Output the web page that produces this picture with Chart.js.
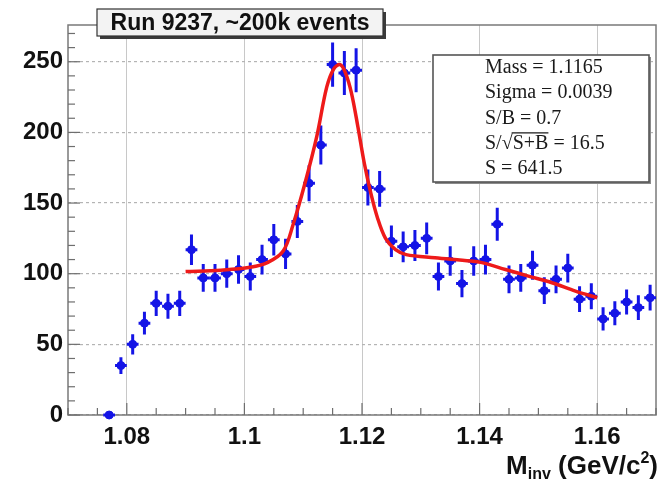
<!DOCTYPE html>
<html lang="en">
<head>
    <meta charset="UTF-8">
    <title>Minv</title>
    <script src="https://cdn.jsdelivr.net/npm/chart.js@4"></script>
    <style>
        html, body { margin: 0; padding: 0; background: #ffffff; }
    </style>
</head>
<body>
    <canvas id="grafico" width="661" height="480"></canvas>

<script>
    // bin centers (GeV/c^2)
    var massas = [1.077, 1.079, 1.081, 1.083, 1.085, 1.087, 1.089, 1.091, 1.093, 1.095,
        1.097, 1.099, 1.101, 1.103, 1.105, 1.107, 1.109, 1.111, 1.113, 1.115,
        1.117, 1.119, 1.121, 1.123, 1.125, 1.127, 1.129, 1.131, 1.133, 1.135,
        1.137, 1.139, 1.141, 1.143, 1.145, 1.147, 1.149, 1.151, 1.153, 1.155,
        1.157, 1.159, 1.161, 1.163, 1.165, 1.167, 1.169];
    var contagens = [0, 35, 50, 65, 79, 77, 79, 117, 97, 97,
        100, 103, 98, 110, 124, 114, 137, 164, 191, 248,
        242, 244, 161, 160, 123, 119, 120, 125, 98, 109,
        93, 109, 110, 135, 96, 97, 106, 88, 96, 104,
        82, 84, 68, 72, 80, 76, 83];
    var erros = [0, 5.9, 7.1, 8.1, 8.9, 8.8, 8.9, 10.8, 9.8, 9.8,
        10, 10.1, 9.9, 10.5, 11.1, 10.7, 11.7, 12.8, 13.8, 15.7,
        15.6, 15.6, 12.7, 12.6, 11.1, 10.9, 11, 11.2, 9.9, 10.4,
        9.6, 10.4, 10.5, 11.6, 9.8, 9.8, 10.3, 9.4, 9.8, 10.2,
        9.1, 9.2, 8.2, 8.5, 8.9, 8.7, 9.1];
    var meiaLargura = 0.001;

    // fit curve
    var ajusteX = [1.090, 1.096, 1.101, 1.104, 1.1066, 1.1083, 1.1103, 1.1123, 1.1140, 1.1152,
        1.1163, 1.1172, 1.1182, 1.1193, 1.1204, 1.1215, 1.1226, 1.1240, 1.1257, 1.1275,
        1.1324, 1.1385, 1.1404, 1.1444, 1.1483, 1.1523, 1.1563, 1.160];
    var ajusteY = [101.5, 102.5, 104.5, 108, 116, 135, 164, 197, 232, 245,
        248, 242, 228, 204, 178, 157, 140, 125, 117, 113.5,
        111.3, 109, 107.8, 103, 98.3, 93.6, 87.7, 83];

    var xTicks = [1.08, 1.1, 1.12, 1.14, 1.16];
    var xLabels = ['1.08', '1.1', '1.12', '1.14', '1.16'];
    var yTicks = [0, 50, 100, 150, 200, 250];
    var yLabels = ['0', '50', '100', '150', '200', '250'];

    var titulo = 'Run 9237, ~200k events';
    var statsLinhas = ['Mass = 1.1165', 'Sigma = 0.0039', 'S/B = 0.7', 'S/\u221AS+B = 16.5', 'S = 641.5'];

    var azul = '#1414e6';
    var vermelho = '#ee1a1a';

    var decor = {
        id: 'decor',
        beforeDatasetsDraw(chart) {
            var ctx = chart.ctx;
            var xs = chart.scales.x, ys = chart.scales.y;
            var a = chart.chartArea;
            ctx.save();

            // frame
            ctx.strokeStyle = '#7a7a7a';
            ctx.lineWidth = 1.5;
            ctx.strokeRect(a.left, a.top, a.right - a.left, a.bottom - a.top);

            // ticks pointing inside
            ctx.strokeStyle = '#6e6e6e';
            ctx.lineWidth = 1.2;
            for (var v = 0; v <= 270; v += 10) {
                var py = ys.getPixelForValue(v);
                var len = (v % 50 === 0) ? 12 : 7;
                ctx.beginPath();
                ctx.moveTo(a.left, py);
                ctx.lineTo(a.left + len, py);
                ctx.stroke();
            }
            for (var i = 0; i <= 20; i++) {
                var xv = 1.07 + i * 0.005;
                var px = xs.getPixelForValue(xv);
                var lenx = (i % 4 === 2) ? 12 : 7;
                ctx.beginPath();
                ctx.moveTo(px, a.bottom);
                ctx.lineTo(px, a.bottom - lenx);
                ctx.stroke();
            }

            // error bars
            ctx.strokeStyle = azul;
            ctx.lineWidth = 3;
            for (var k = 0; k < massas.length; k++) {
                var cx = xs.getPixelForValue(massas[k]);
                var x0 = xs.getPixelForValue(massas[k] - meiaLargura);
                var x1 = xs.getPixelForValue(massas[k] + meiaLargura);
                var cy = ys.getPixelForValue(contagens[k]);
                var y0 = ys.getPixelForValue(contagens[k] - erros[k]);
                var y1 = ys.getPixelForValue(contagens[k] + erros[k]);
                ctx.beginPath();
                ctx.moveTo(x0, cy);
                ctx.lineTo(x1, cy);
                if (erros[k] > 0) {
                    ctx.moveTo(cx, y0);
                    ctx.lineTo(cx, y1);
                }
                ctx.stroke();
            }
            ctx.restore();
        },
        afterDraw(chart) {
            var ctx = chart.ctx;
            ctx.save();

            // title box
            var bx = 97, by = 9, bw = 286, bh = 27;
            ctx.fillStyle = '#3a3a3a';
            ctx.fillRect(bx + 3, by + 3, bw, bh);
            ctx.fillStyle = '#f3f3f3';
            ctx.fillRect(bx, by, bw, bh);
            ctx.strokeStyle = '#333333';
            ctx.lineWidth = 1.2;
            ctx.strokeRect(bx, by, bw, bh);
            ctx.fillStyle = '#111111';
            ctx.font = 'bold 23px "Liberation Sans", Arial, sans-serif';
            ctx.textAlign = 'center';
            ctx.textBaseline = 'middle';
            ctx.fillText(titulo, bx + bw / 2, by + bh / 2 + 1);

            // stats box
            var sx = 433, sy = 55, sw = 216, sh = 127;
            ctx.fillStyle = '#8a8a8a';
            ctx.fillRect(sx + 2, sy + 2, sw, sh);
            ctx.fillStyle = '#ffffff';
            ctx.fillRect(sx, sy, sw, sh);
            ctx.strokeStyle = '#555555';
            ctx.lineWidth = 1.6;
            ctx.strokeRect(sx, sy, sw, sh);
            ctx.fillStyle = '#1a1a1a';
            ctx.font = '20px "Liberation Serif", "Times New Roman", serif';
            ctx.textAlign = 'left';
            ctx.textBaseline = 'alphabetic';
            for (var i = 0; i < statsLinhas.length; i++) {
                var ly = 73 + i * 25.3;
                ctx.fillText(statsLinhas[i], 485, ly);
                if (statsLinhas[i].indexOf('\u221A') >= 0) {
                    var p = statsLinhas[i].indexOf('\u221A');
                    var ini = 485 + ctx.measureText(statsLinhas[i].slice(0, p + 1)).width - 1;
                    var fim = 485 + ctx.measureText(statsLinhas[i].slice(0, p + 4)).width;
                    ctx.strokeStyle = '#1a1a1a';
                    ctx.lineWidth = 1.2;
                    ctx.beginPath();
                    ctx.moveTo(ini, ly - 16);
                    ctx.lineTo(fim, ly - 16);
                    ctx.stroke();
                }
            }

            // axis title  M_inv (GeV/c^2)
            var partes = [
                { t: 'M', f: 26, dy: 0 },
                { t: 'inv', f: 16, dy: 5 },
                { t: ' (GeV/c', f: 26, dy: 0 },
                { t: '2', f: 16, dy: -11 },
                { t: ')', f: 26, dy: 0 }
            ];
            var total = 0;
            partes.forEach(function (pt) {
                ctx.font = 'bold ' + pt.f + 'px "Liberation Sans", Arial, sans-serif';
                pt.w = ctx.measureText(pt.t).width;
                total += pt.w;
            });
            var tx = 658 - total;
            ctx.fillStyle = '#111111';
            partes.forEach(function (pt) {
                ctx.font = 'bold ' + pt.f + 'px "Liberation Sans", Arial, sans-serif';
                ctx.fillText(pt.t, tx, 474 + pt.dy);
                tx += pt.w;
            });
            ctx.restore();
        }
    };

    function desenharGrafico() {
        var ctx = document.getElementById('grafico').getContext('2d');
        var pontos = massas.map(function (m, i) { return { x: m, y: contagens[i] }; });
        var curva = ajusteX.map(function (m, i) { return { x: m, y: ajusteY[i] }; });
        var fonteEixo = { family: '"Liberation Sans", Arial, sans-serif', size: 24, weight: 'bold' };

        var config = {
            type: 'scatter',
            data: {
                datasets: [
                    {
                        type: 'line',
                        label: 'fit',
                        data: curva,
                        borderColor: vermelho,
                        borderWidth: 3.5,
                        pointRadius: 0,
                        tension: 0.35,
                        fill: false,
                        order: 0
                    },
                    {
                        label: 'dados',
                        data: pontos,
                        backgroundColor: azul,
                        borderColor: azul,
                        pointRadius: 4,
                        pointStyle: 'circle',
                        clip: false,
                        order: 1
                    }
                ]
            },
            options: {
                responsive: false,
                animation: false,
                layout: { padding: { top: 25, right: 3, left: 0, bottom: 0 } },
                plugins: {
                    legend: { display: false },
                    tooltip: { enabled: false }
                },
                scales: {
                    x: {
                        type: 'linear',
                        min: 1.07,
                        max: 1.17,
                        afterBuildTicks: function (s) { s.ticks = xTicks.map(function (v) { return { value: v }; }); },
                        afterFit: function (s) { s.height = 65; },
                        ticks: {
                            callback: function (v, i) { return xLabels[i]; },
                            font: fonteEixo,
                            color: '#111111',
                            padding: 8,
                            maxRotation: 0,
                            autoSkip: false
                        },
                        grid: { color: '#c8c8c8', lineWidth: 1, drawTicks: false },
                        border: { display: false }
                    },
                    y: {
                        min: 0,
                        max: 276,
                        afterBuildTicks: function (s) { s.ticks = yTicks.map(function (v) { return { value: v }; }); },
                        afterFit: function (s) { s.width = 68; },
                        ticks: {
                            callback: function (v, i) { return yLabels[i]; },
                            font: fonteEixo,
                            color: '#111111',
                            padding: 5,
                            autoSkip: false
                        },
                        grid: { color: '#b4b4b4', lineWidth: 1.2, drawTicks: false },
                        border: { display: false, dash: [3, 3] }
                    }
                }
            },
            plugins: [decor]
        };

        new Chart(ctx, config);
    }

    desenharGrafico();
</script>
</body>
</html>
